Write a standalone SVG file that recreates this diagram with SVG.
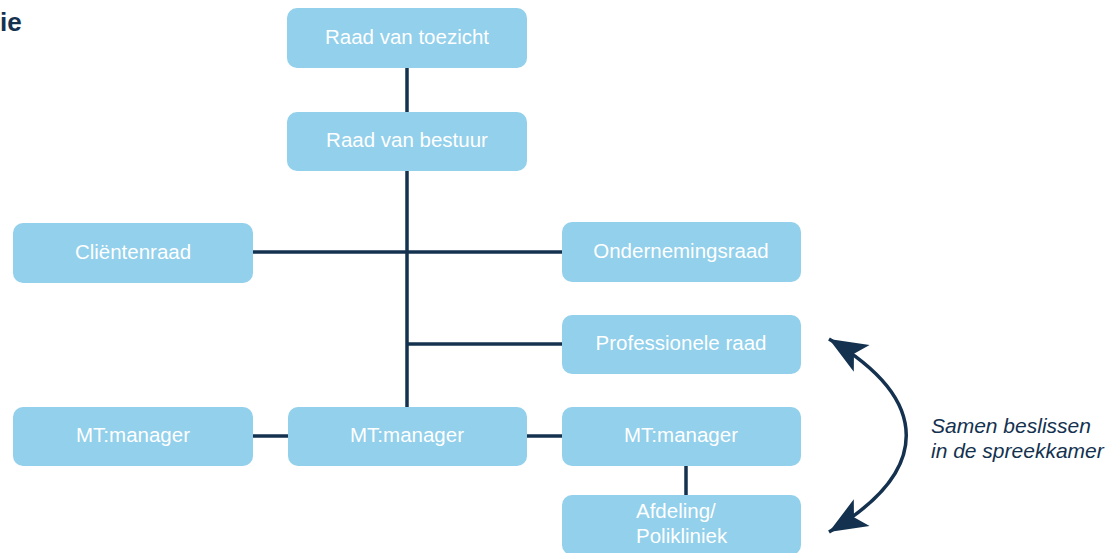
<svg xmlns="http://www.w3.org/2000/svg" width="1112" height="553" viewBox="0 0 1112 553">
<style>
.box{fill:#92d0eb}
.lbl{font-family:"Liberation Sans",Arial,sans-serif;font-size:20.5px;fill:#ffffff;text-anchor:middle}
.conn{stroke:#14324f;stroke-width:3.5;fill:none}
.note{font-family:"Liberation Sans",Arial,sans-serif;font-size:21px;font-style:italic;fill:#14324f}
</style>
<defs>
<marker id="head" markerUnits="userSpaceOnUse" markerWidth="40" markerHeight="40" refX="0" refY="0" orient="auto-start-reverse" overflow="visible" viewBox="-40 -20 40 40">
<path d="M0,0 L-38,-15.5 L-29,0 L-38,15.5 Z" fill="#14324f"/>
</marker>
</defs>
<rect width="1112" height="553" fill="#ffffff"/>
<text x="0" y="31" font-family="'Liberation Sans',Arial,sans-serif" font-size="26" font-weight="bold" fill="#14324f">ie</text>
<g id="connectors">
<line class="conn" x1="407" y1="68" x2="407" y2="112"/>
<line class="conn" x1="407" y1="171" x2="407" y2="407"/>
<line class="conn" x1="253" y1="252" x2="562" y2="252"/>
<line class="conn" x1="407" y1="344" x2="562" y2="344"/>
<line class="conn" x1="253" y1="436" x2="288" y2="436"/>
<line class="conn" x1="527" y1="436" x2="562" y2="436"/>
<line class="conn" x1="686" y1="466" x2="686" y2="495"/>
<path class="conn" d="M829,339 C932,400 932,471 829,532" stroke-width="3.2" marker-start="url(#head)" marker-end="url(#head)"/>
</g>
<g id="n-toezicht"><rect class="box" x="287" y="8" width="240" height="60" rx="10"/><text class="lbl" x="407" y="44">Raad van toezicht</text></g>
<g id="n-bestuur"><rect class="box" x="287" y="112" width="240" height="59" rx="10"/><text class="lbl" x="407" y="147">Raad van bestuur</text></g>
<g id="n-clienten"><rect class="box" x="13" y="223" width="240" height="60" rx="10"/><text class="lbl" x="133" y="259">Cliëntenraad</text></g>
<g id="n-or"><rect class="box" x="562" y="222" width="239" height="60" rx="10"/><text class="lbl" x="681" y="258">Ondernemingsraad</text></g>
<g id="n-prof"><rect class="box" x="562" y="315" width="239" height="59" rx="10"/><text class="lbl" x="681" y="350">Professionele raad</text></g>
<g id="n-mt1"><rect class="box" x="13" y="407" width="240" height="59" rx="10"/><text class="lbl" x="133" y="442">MT:manager</text></g>
<g id="n-mt2"><rect class="box" x="288" y="407" width="239" height="59" rx="10"/><text class="lbl" x="407" y="442">MT:manager</text></g>
<g id="n-mt3"><rect class="box" x="562" y="407" width="239" height="59" rx="10"/><text class="lbl" x="681" y="442">MT:manager</text></g>
<g id="n-afdeling"><rect class="box" x="562" y="495" width="239" height="60" rx="10"/><text class="lbl" x="636" y="518" style="text-anchor:start">Afdeling/</text><text class="lbl" x="636" y="543" style="text-anchor:start">Polikliniek</text></g>
<g id="note"><text class="note" x="931" y="433">Samen beslissen</text><text class="note" x="931" y="458">in de spreekkamer</text></g>
</svg>
